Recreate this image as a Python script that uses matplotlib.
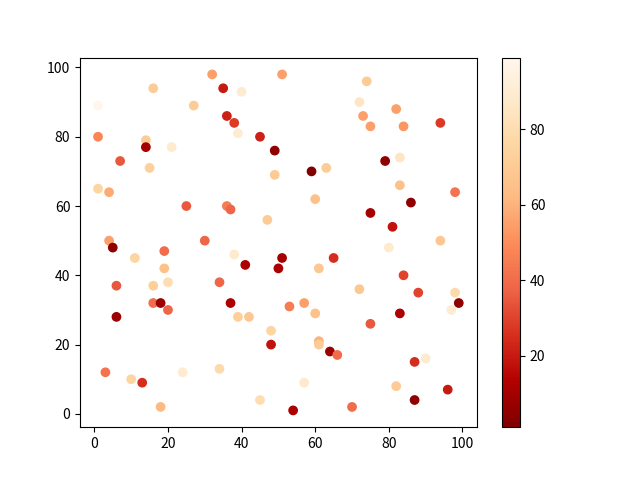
import numpy as np
import matplotlib
matplotlib.use('Agg')
import matplotlib.pyplot as plt

plt.rcParams['font.family'] = ['Noto Sans CJK SC', 'DejaVu Sans']

x = [32, 51, 16, 35, 40, 1, 27, 36, 38, 39,
     1, 45, 14, 14, 21, 49, 7, 15, 49, 1,
     4, 25, 36, 37, 47, 4, 30, 5,
     74, 72, 82, 73, 75, 84, 94, 79, 83, 59,
     63, 83, 98, 60, 86, 75, 81, 94, 80,
     11, 19, 38, 41, 51, 50, 19, 6, 16, 20,
     34, 16, 18, 20, 37, 6, 39, 42, 48, 48,
     3, 10, 13, 24, 34, 45, 18,
     65, 61, 84, 72, 88, 98, 99, 97, 53, 57,
     60, 83, 75, 61, 61, 64, 66, 87, 90, 57,
     82, 96, 87, 54, 70]
y = [98, 98, 94, 94, 93, 89, 89, 86, 84, 81,
     80, 80, 79, 77, 77, 76, 73, 71, 69, 65,
     64, 60, 60, 59, 56, 50, 50, 48,
     96, 90, 88, 86, 83, 83, 84, 73, 74, 70,
     71, 66, 64, 62, 61, 58, 54, 50, 48,
     45, 47, 46, 43, 45, 42, 42, 37, 37, 38,
     38, 32, 32, 30, 32, 28, 28, 28, 24, 20,
     12, 10, 9, 12, 13, 4, 2,
     45, 42, 40, 36, 35, 35, 32, 30, 31, 32,
     29, 29, 26, 21, 20, 18, 17, 15, 16, 9,
     8, 7, 4, 1, 2]
c = [55, 55, 70, 20, 90, 99, 70, 22, 28, 90,
     48, 22, 70, 10, 88, 5, 35, 72, 70, 75,
     58, 35, 45, 38, 70, 55, 38, 5,
     70, 85, 55, 55, 55, 52, 28, 5, 85, 1,
     70, 65, 42, 65, 5, 10, 18, 68, 88,
     75, 40, 88, 12, 10, 12, 65, 35, 72, 80,
     38, 40, 8, 38, 12, 8, 72, 68, 75, 18,
     42, 75, 25, 90, 78, 80, 62,
     25, 68, 30, 68, 30, 78, 5, 90, 45, 55,
     65, 12, 35, 60, 70, 8, 40, 25, 88, 88,
     70, 20, 5, 12, 40]

plt.figure()
plt.scatter(x, y, c=c, cmap='OrRd_r')
plt.colorbar()
plt.savefig('out.png')
